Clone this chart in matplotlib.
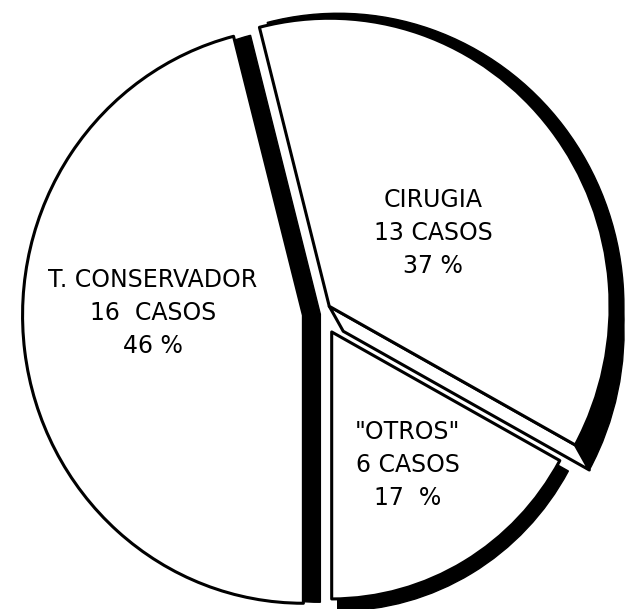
import matplotlib
matplotlib.use("Agg")
import matplotlib.pyplot as plt
from matplotlib.patches import Wedge, Polygon
import numpy as np

# tratamiento de los casos
categorias = ["T. CONSERVADOR", "CIRUGIA", '"OTROS"']
casos = [16, 13, 6]
porcentajes = [46, 37, 17]
sep_casos = ["  ", " ", " "]
sep_pct = [" ", " ", "  "]

W, H = 625, 609
SX = 0.975          # the drawing is slightly narrower than tall
R = 288

fig = plt.figure(figsize=(W / 100, H / 100), dpi=100)
ax = fig.add_axes([0, 0, 1, 1])

# explode is in data units here (radius is not 1)
wedges, _ = ax.pie(porcentajes, startangle=270, counterclock=False,
                   radius=R, center=(329, 296),
                   explode=[18, 11, 22],
                   wedgeprops=dict(facecolor="white", edgecolor="black",
                                   linewidth=2.2, joinstyle="round"))
wedges[2].set_radius(267)

cons, ciru, otros = wedges
for w, z in zip(wedges, [2, 2, 3]):
    w.set_zorder(z)


def sombra(w, dx, dy, dr=0, z=1):
    cx, cy = w.center
    s = Wedge((cx + dx / SX, cy + dy), w.r + dr, w.theta1, w.theta2,
              facecolor="black", edgecolor="black", linewidth=1, zorder=z)
    ax.add_patch(s)
    return s


# thick black sides (drawn behind each slice)
sombra(cons, 17, 1)
sombra(ciru, 9, 0, dr=5)
d = np.array([14 / SX, -25])
sombra(ciru, 14, -25)
sombra(otros, 6, -9, dr=3, z=2.5)

# lower side face of the CIRUGIA slice, left white
cx, cy = ciru.center
t = np.radians(ciru.theta1)
v = np.array([cx, cy])
a = v + ciru.r * np.array([np.cos(t), np.sin(t)])
cara = Polygon([v, a, a + d, v + d], closed=True, facecolor="white",
               edgecolor="black", linewidth=2.2, joinstyle="round", zorder=1.5)
ax.add_patch(cara)

# labels
pos_etiquetas = [(157, 296), (444, 376), (418, 144)]
for cat, n, p, s1, s2, (x, y) in zip(categorias, casos, porcentajes,
                                     sep_casos, sep_pct, pos_etiquetas):
    ax.text(x, y, f"{cat}\n{n}{s1}CASOS\n{p}{s2}%", ha="center", va="center",
            multialignment="center", fontsize=17, linespacing=1.45,
            family="DejaVu Sans", color="black", zorder=5)

ax.set_aspect("auto")
ax.set_xlim(0, W / SX)
ax.set_ylim(0, H)
ax.axis("off")

fig.savefig("out.png", dpi=100, facecolor="white")
